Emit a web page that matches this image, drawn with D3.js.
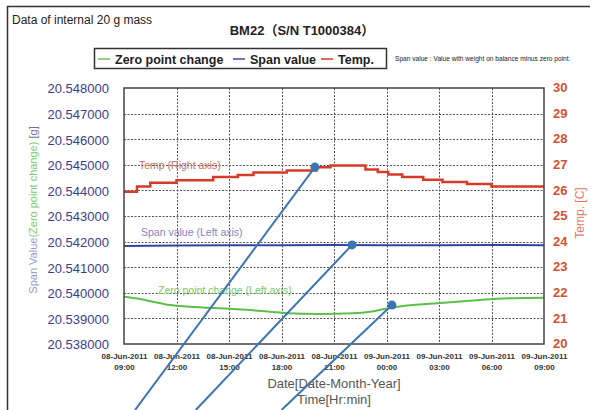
<!DOCTYPE html>
<html>
<head>
<meta charset="utf-8">
<script src="https://cdn.jsdelivr.net/npm/d3@7"></script>
<style>
  html, body { margin: 0; padding: 0; background: #fff; }
  svg { display: block; font-family: "Liberation Sans", Arial, sans-serif; }
</style>
</head>
<body>
<svg id="chart" width="592" height="410"></svg>
<script>
// ---- Data ----
const startTime = new Date(2011, 5, 8, 9, 0);
const tickHours = [0, 3, 6, 9, 12, 15, 18, 21, 24];
const tickDates = ["08-Jun-2011","08-Jun-2011","08-Jun-2011","08-Jun-2011","08-Jun-2011","09-Jun-2011","09-Jun-2011","09-Jun-2011","09-Jun-2011"];
const tickTimes = ["09:00","12:00","15:00","18:00","21:00","00:00","03:00","06:00","09:00"];
const leftTicks = [20.538, 20.539, 20.540, 20.541, 20.542, 20.543, 20.544, 20.545, 20.546, 20.547, 20.548];
const rightTicks = [20, 21, 22, 23, 24, 25, 26, 27, 28, 29, 30];

// Temperature (right axis, step-wise), [hours since 08-Jun 09:00, °C]
const tempHours  = [0, 0.74, 1.5, 3.0, 5.1, 6.5, 7.4, 9.3, 11.0, 11.8, 13.8, 14.5, 15.1, 15.9, 17.1, 18.2, 19.6, 21.0, 24];
const tempValues = [25.95, 26.15, 26.3, 26.4, 26.52, 26.6, 26.7, 26.78, 26.9, 26.97, 26.82, 26.72, 26.62, 26.52, 26.42, 26.33, 26.25, 26.15, 26.15];

// Span value (left axis)
const spanHours  = [0, 3, 6, 9, 12, 15, 18, 21, 24];
const spanValues = [20.54183, 20.54185, 20.54186, 20.54186, 20.54187, 20.54186, 20.54186, 20.54187, 20.54186];

// Zero point change (left axis)
const zeroHours  = [0, 0.74, 1.66, 2.63, 4.51, 6.46, 8.34, 9.31, 11.2, 13.1, 14.06, 15.03, 15.94, 17.89, 19.77, 21.66, 24];
const zeroValues = [20.53985, 20.53978, 20.53965, 20.53952, 20.53943, 20.53936, 20.53926, 20.5392, 20.53917, 20.5392, 20.53926, 20.53939, 20.53948, 20.53959, 20.53969, 20.53978, 20.53981];

// Callout markers: point on a series, and the far end of the pointer line (left-axis units)
const calloutHours  = [10.91, 13.03, 15.31];
const calloutAxis   = ["right", "left", "left"];
const calloutValues = [26.91, 20.54187, 20.53952];
const calloutEndHours  = [0.63, 4.1, 9.0];
const calloutEndValues = [20.53542, 20.53542, 20.53542];

// ---- Layout ----
const svg = d3.select("#chart");
const L = 124, R = 544, T = 88, B = 344;
const hour = h => new Date(startTime.getTime() + h * 3600 * 1000);

const x = d3.scaleTime().domain([hour(0), hour(24)]).range([L, R]);
const yL = d3.scaleLinear().domain([20.538, 20.548]).range([B, T]);
const yR = d3.scaleLinear().domain([20, 30]).range([B, T]);

// Outer frame lines
svg.append("line").attr("x1", 7).attr("x2", 590).attr("y1", 6.5).attr("y2", 6.5)
  .attr("stroke", "#333").attr("stroke-width", 1.5);
svg.append("line").attr("x1", 7.5).attr("x2", 7.5).attr("y1", 6).attr("y2", 410)
  .attr("stroke", "#333").attr("stroke-width", 1.5);

// Header texts
svg.append("text").attr("x", 12).attr("y", 24).attr("font-size", 12).attr("fill", "#222")
  .text("Data of internal 20 g mass");
svg.append("text").attr("x", 302).attr("y", 35).attr("text-anchor", "middle")
  .attr("font-size", 13).attr("font-weight", "bold").attr("fill", "#222")
  .style("font-family", "'Liberation Sans', 'Noto Sans CJK JP', sans-serif")
  .text("BM22（S/N T1000384）");

// Legend
const lg = svg.append("g");
lg.append("rect").attr("x", 94.5).attr("y", 48.5).attr("width", 292).attr("height", 20)
  .attr("fill", "#fff").attr("stroke", "#333").attr("stroke-width", 1.5);
const legendItems = [
  { label: "Zero point change", color: "#6cc05a", x: 98 },
  { label: "Span value", color: "#3b4aa0", x: 233 },
  { label: "Temp.", color: "#d63a28", x: 321 }
];
legendItems.forEach(d => {
  lg.append("line").attr("x1", d.x).attr("x2", d.x + 12).attr("y1", 59).attr("y2", 59)
    .attr("stroke", d.color).attr("stroke-width", 1.5);
  lg.append("text").attr("x", d.x + 17).attr("y", 63.5).attr("font-size", 12.5)
    .attr("font-weight", "bold").attr("fill", "#222").text(d.label);
});
svg.append("text").attr("x", 395).attr("y", 60.5).attr("font-size", 6.6).attr("fill", "#222")
  .text("Span value : Value with weight on balance minus zero point.");

// Gridlines
const grid = svg.append("g").attr("stroke", "#555").attr("stroke-width", 1).attr("stroke-dasharray", "2,1.5");
leftTicks.slice(1, -1).forEach(v => {
  grid.append("line").attr("x1", L).attr("x2", R).attr("y1", Math.round(yL(v)) + 0.5).attr("y2", Math.round(yL(v)) + 0.5);
});
tickHours.slice(1, -1).forEach(h => {
  grid.append("line").attr("x1", Math.round(x(hour(h))) + 0.5).attr("x2", Math.round(x(hour(h))) + 0.5).attr("y1", T).attr("y2", B);
});

// Axes (labels via d3 axes, no domain lines)
const leftAxis = d3.axisLeft(yL).tickValues(leftTicks).tickSize(0).tickPadding(0)
  .tickFormat(d3.format(".6f"));
const gL = svg.append("g").attr("transform", `translate(${L - 15},0)`).call(leftAxis);
gL.select(".domain").remove();
gL.selectAll("text").attr("font-size", 13).attr("fill", "#3c3c8c")
  .style("font-family", "'Liberation Sans', Arial, sans-serif").attr("dy", "0.38em");

const rightAxis = d3.axisRight(yR).tickValues(rightTicks).tickSize(0).tickPadding(0);
const gR = svg.append("g").attr("transform", `translate(${R + 9},0)`).call(rightAxis);
gR.select(".domain").remove();
gR.selectAll("text").attr("font-size", 13).attr("fill", "#d4502e").attr("font-weight", "bold")
  .style("font-family", "'Liberation Sans', Arial, sans-serif").attr("dy", "0.28em");

const bottomAxis = d3.axisBottom(x).tickValues(tickHours.map(hour)).tickSize(0).tickPadding(0)
  .tickFormat(() => "");
const gB = svg.append("g").attr("transform", `translate(0,${B})`).call(bottomAxis);
gB.select(".domain").remove();
gB.selectAll(".tick").each(function(d, i) {
  const t = d3.select(this);
  t.select("text").remove();
  t.append("text").attr("y", 15).attr("text-anchor", "middle").attr("font-size", 8)
    .attr("font-weight", "bold").attr("fill", "#333").text(tickDates[i]);
  t.append("text").attr("y", 26).attr("text-anchor", "middle").attr("font-size", 8)
    .attr("font-weight", "bold").attr("fill", "#333").text(tickTimes[i]);
});

// Axis titles
svg.append("text").attr("x", 334).attr("y", 388).attr("text-anchor", "middle")
  .attr("font-size", 13).attr("fill", "#555").text("Date[Date-Month-Year]");
svg.append("text").attr("x", 334).attr("y", 404).attr("text-anchor", "middle")
  .attr("font-size", 13).attr("fill", "#555").text("Time[Hr:min]");

const lt = svg.append("text").attr("transform", "translate(37,210) rotate(-90)")
  .attr("text-anchor", "middle").attr("font-size", 11);
lt.append("tspan").attr("fill", "#9a9ac8").text("Span Value");
lt.append("tspan").attr("fill", "#7ccc6c").text("(Zero point change) ");
lt.append("tspan").attr("fill", "#7070b0").text("[g]");

svg.append("text").attr("transform", "translate(584,213) rotate(-90)")
  .attr("text-anchor", "middle").attr("font-size", 12).attr("fill", "#e07a68").text("Temp. [C]");

// Series
const lineL = d3.line().x(d => x(hour(d[0]))).y(d => yL(d[1]));
const lineR = d3.line().x(d => x(hour(d[0]))).y(d => yR(d[1])).curve(d3.curveStepAfter);
const lineZ = d3.line().x(d => x(hour(d[0]))).y(d => yL(d[1])).curve(d3.curveMonotoneX);

svg.append("path").datum(zeroHours.map((h, i) => [h, zeroValues[i]]))
  .attr("d", lineZ).attr("fill", "none").attr("stroke", "#5cbf4a").attr("stroke-width", 2);
svg.append("path").datum(spanHours.map((h, i) => [h, spanValues[i]]))
  .attr("d", lineL).attr("fill", "none").attr("stroke", "#34449e").attr("stroke-width", 2);
svg.append("path").datum(tempHours.map((h, i) => [h, tempValues[i]]))
  .attr("d", lineR).attr("fill", "none").attr("stroke", "#d63a28").attr("stroke-width", 2.5);

// Plot frame
svg.append("rect").attr("x", L).attr("y", T).attr("width", R - L).attr("height", B - T)
  .attr("fill", "none").attr("stroke", "#444").attr("stroke-width", 1.5);

// In-chart annotations
svg.append("text").attr("x", 139).attr("y", 169).attr("font-size", 10.5).attr("fill", "#c8705e")
  .text("Temp (Right axis)");
svg.append("text").attr("x", 141).attr("y", 236).attr("font-size", 10.5).attr("fill", "#8484c4")
  .text("Span value (Left axis)");
svg.append("text").attr("x", 158).attr("y", 294).attr("font-size", 10.5).attr("fill", "#78c868")
  .text("Zero point change (Left axis)");

// Callout pointer lines and dots
calloutHours.forEach((h, i) => {
  const cx = x(hour(h));
  const cy = calloutAxis[i] === "right" ? yR(calloutValues[i]) : yL(calloutValues[i]);
  const ex = x(hour(calloutEndHours[i]));
  const ey = yL(calloutEndValues[i]);
  svg.append("line").attr("x1", cx).attr("y1", cy).attr("x2", ex).attr("y2", ey)
    .attr("stroke", "#3c74b4").attr("stroke-width", 2);
  svg.append("circle").attr("cx", cx).attr("cy", cy).attr("r", 4.5).attr("fill", "#3c74b4");
});
</script>
</body>
</html>
